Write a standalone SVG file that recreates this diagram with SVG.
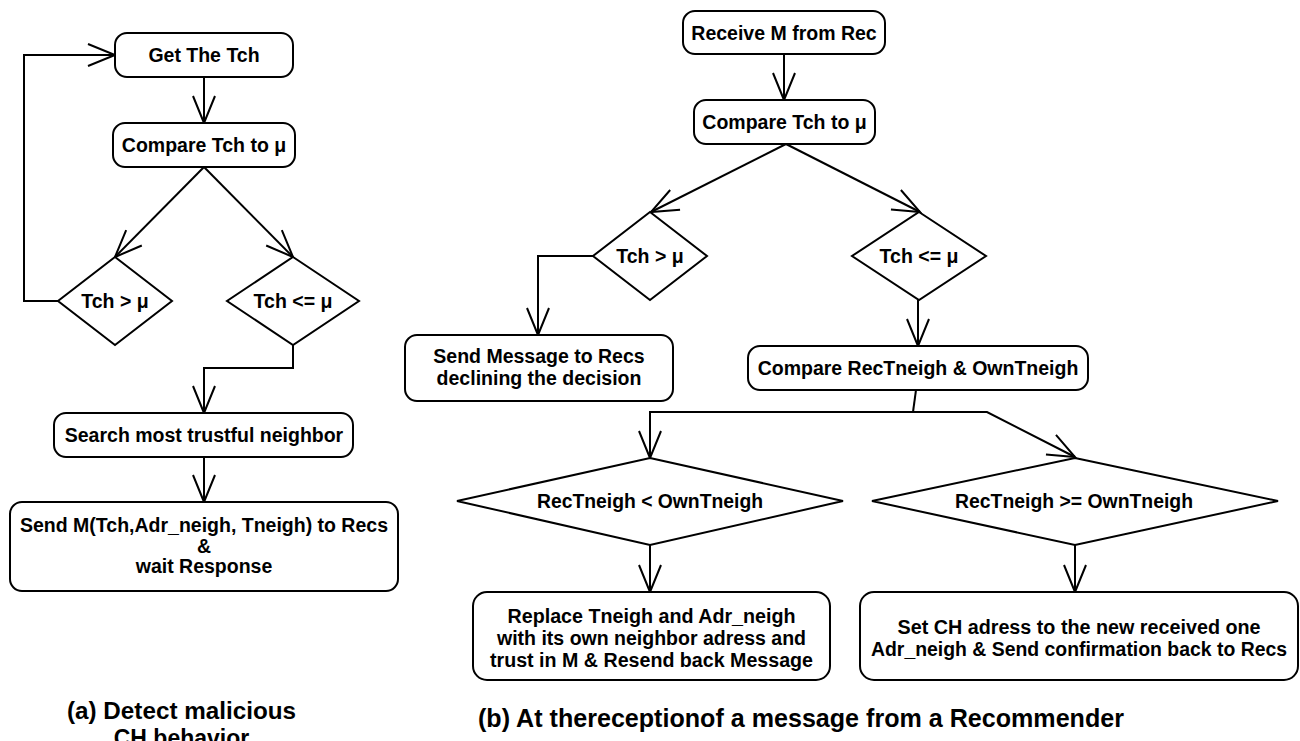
<svg xmlns="http://www.w3.org/2000/svg" width="1300" height="741" viewBox="0 0 1300 741">
<style>
.box{fill:#fff;stroke:#000;stroke-width:2}
.dia{fill:#fff;stroke:#000;stroke-width:2;stroke-linejoin:miter}
.con{fill:none;stroke:#000;stroke-width:2}
.t{font-family:"Liberation Sans",Arial,sans-serif;font-weight:bold;font-size:19.5px;text-anchor:middle;fill:#000}
.n{font-family:"Liberation Sans",Arial,sans-serif;font-weight:bold;font-size:20px;text-anchor:middle;fill:#000}
.cap{font-family:"Liberation Sans",Arial,sans-serif;font-weight:bold;font-size:23px;fill:#000}
.capn{font-family:"Liberation Sans",Arial,sans-serif;font-weight:bold;font-size:26px;fill:#000}
</style>
<defs>
<marker id="arr" markerUnits="userSpaceOnUse" viewBox="-30 -14 32 28" markerWidth="32" markerHeight="28" refX="0" refY="0" orient="auto" overflow="visible">
<path d="M -27 -11 L 0 0 L -27 11" fill="none" stroke="#000" stroke-width="2"/>
</marker>
</defs>
<rect width="1300" height="741" fill="#fff"/>

<g id="connectors">
<polyline class="con" points="58,301 24,301 24,55 115,55" marker-end="url(#arr)"/>
<line class="con" x1="204" y1="77" x2="204" y2="123" marker-end="url(#arr)"/>
<line class="con" x1="204" y1="167" x2="115" y2="257" marker-end="url(#arr)"/>
<line class="con" x1="204" y1="167" x2="293" y2="257" marker-end="url(#arr)"/>
<polyline class="con" points="293,345 293,368 204,368 204,413" marker-end="url(#arr)"/>
<line class="con" x1="204" y1="457" x2="204" y2="502" marker-end="url(#arr)"/>

<line class="con" x1="784" y1="54" x2="784" y2="100" marker-end="url(#arr)"/>
<line class="con" x1="786" y1="144" x2="651" y2="212" marker-end="url(#arr)"/>
<line class="con" x1="786" y1="144" x2="920" y2="212" marker-end="url(#arr)"/>
<polyline class="con" points="593,256 538,256 538,335" marker-end="url(#arr)"/>
<line class="con" x1="918" y1="300" x2="918" y2="346" marker-end="url(#arr)"/>
<line class="con" x1="916" y1="390" x2="913" y2="412"/>
<polyline class="con" points="913,412 650,412 650,458" marker-end="url(#arr)"/>
<polyline class="con" points="913,412 987,412 1075,457" marker-end="url(#arr)"/>
<line class="con" x1="650" y1="545" x2="650" y2="592" marker-end="url(#arr)"/>
<line class="con" x1="1075" y1="545" x2="1075" y2="592" marker-end="url(#arr)"/>
</g>

<g id="a-get-tch">
<rect class="box" x="115" y="33" width="178" height="44" rx="12"/>
<text class="t" x="204" y="62">Get The Tch</text>
</g>
<g id="a-compare">
<rect class="box" x="113" y="123" width="182" height="44" rx="12"/>
<text class="t" x="204" y="152">Compare Tch to μ</text>
</g>
<g id="a-gt">
<polygon class="dia" points="115,257 172,301 115,345 58,301"/>
<text class="t" x="115" y="308">Tch &gt; μ</text>
</g>
<g id="a-le">
<polygon class="dia" points="293,257 359,301 293,345 227,301"/>
<text class="t" x="293" y="308">Tch &lt;= μ</text>
</g>
<g id="a-search">
<rect class="box" x="54" y="413" width="299" height="44" rx="12"/>
<text class="t" x="204" y="442">Search most trustful neighbor</text>
</g>
<g id="a-send">
<rect class="box" x="10" y="502" width="388" height="89" rx="12"/>
<text class="t" x="204" y="532">Send M(Tch,Adr_neigh, Tneigh) to Recs</text>
<text class="t" x="204" y="553">&amp;</text>
<text class="t" x="204" y="573">wait Response</text>
</g>
<g id="caption-a">
<text class="cap" x="181.5" y="719" text-anchor="middle" textLength="229" lengthAdjust="spacingAndGlyphs">(a) Detect malicious</text>
<text class="cap" x="181.5" y="746" text-anchor="middle">CH behavior</text>
</g>

<g id="b-receive">
<rect class="box" x="683" y="11" width="202" height="43" rx="12"/>
<text class="t" x="784" y="39.5">Receive M from Rec</text>
</g>
<g id="b-compare">
<rect class="box" x="694" y="100" width="181" height="44" rx="12"/>
<text class="t" x="784.5" y="129">Compare Tch to μ</text>
</g>
<g id="b-gt">
<polygon class="dia" points="650,212 707,256 650,300 593,256"/>
<text class="t" x="650" y="263">Tch &gt; μ</text>
</g>
<g id="b-le">
<polygon class="dia" points="919,212 986,256 919,300 852,256"/>
<text class="t" x="919" y="263">Tch &lt;= μ</text>
</g>
<g id="b-send-decline">
<rect class="box" x="405" y="335" width="268" height="66" rx="12"/>
<text class="t" x="539" y="363">Send Message to Recs</text>
<text class="t" x="539" y="385">declining the decision</text>
</g>
<g id="b-compare-neigh">
<rect class="box" x="748" y="346" width="340" height="44" rx="12"/>
<text class="t" x="918" y="375">Compare RecTneigh &amp; OwnTneigh</text>
</g>
<g id="b-lt">
<polygon class="dia" points="650,458 843,501 650,545 457,501"/>
<text class="t" x="650" y="508" textLength="226" lengthAdjust="spacingAndGlyphs">RecTneigh &lt; OwnTneigh</text>
</g>
<g id="b-ge">
<polygon class="dia" points="1075,458 1278,501 1075,545 872,501"/>
<text class="t" x="1074" y="508" textLength="238" lengthAdjust="spacingAndGlyphs">RecTneigh &gt;= OwnTneigh</text>
</g>
<g id="b-replace">
<rect class="box" x="473" y="592" width="357" height="88" rx="14"/>
<text class="n" x="651.5" y="623" textLength="288" lengthAdjust="spacingAndGlyphs">Replace Tneigh and Adr_neigh</text>
<text class="n" x="651.5" y="645" textLength="309" lengthAdjust="spacingAndGlyphs">with its own neighbor adress and</text>
<text class="n" x="651.5" y="667" textLength="323" lengthAdjust="spacingAndGlyphs">trust in M &amp; Resend back Message</text>
</g>
<g id="b-setch">
<rect class="box" x="860" y="592" width="438" height="88" rx="14"/>
<text class="n" x="1079" y="634" textLength="363" lengthAdjust="spacingAndGlyphs">Set CH adress to the new received one</text>
<text class="n" x="1079" y="656" textLength="416" lengthAdjust="spacingAndGlyphs">Adr_neigh &amp; Send confirmation back to Recs</text>
</g>
<g id="caption-b">
<text class="capn" x="478" y="727" textLength="646" lengthAdjust="spacingAndGlyphs">(b) At thereceptionof a message from a Recommender</text>
</g>
</svg>
